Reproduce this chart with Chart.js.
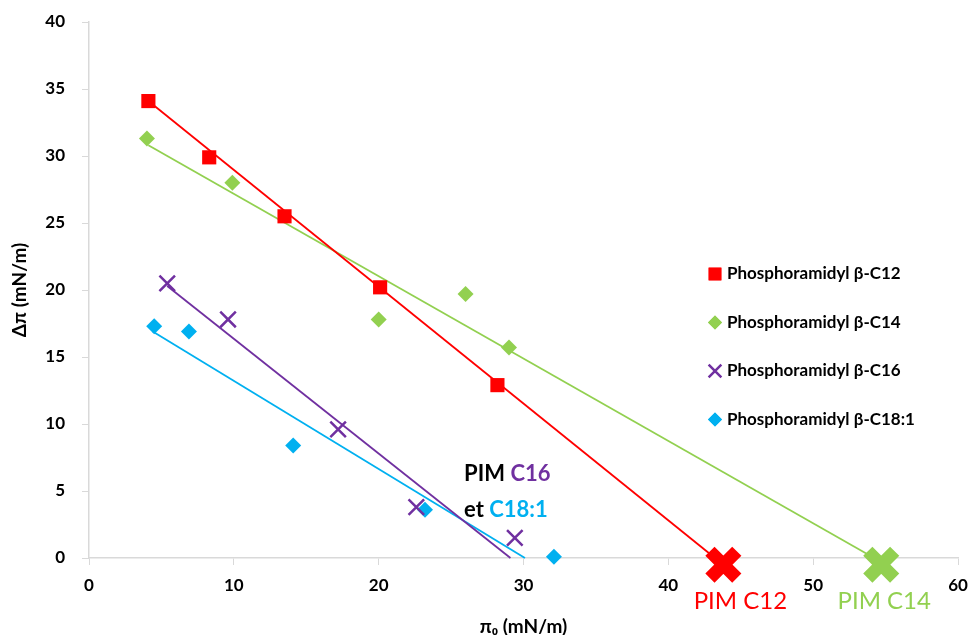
<!DOCTYPE html>
<html><head><meta charset="utf-8">
<script src="https://cdn.jsdelivr.net/npm/chart.js@4/dist/chart.umd.min.js"></script>
<style>html,body{margin:0;padding:0;background:#fff;overflow:hidden}#wrap{width:973px;height:635px;position:relative}</style>
</head><body><div id="wrap"><canvas id="c"></canvas></div>
<script>
// ---- data ----
const seriesNames = ['Phosphoramidyl β-C12','Phosphoramidyl β-C14','Phosphoramidyl β-C16','Phosphoramidyl β-C18:1'];
const c12X = [4.1, 8.3, 13.5, 20.1, 28.2];
const c12Y = [34.1, 29.9, 25.5, 20.2, 12.9];
const c14X = [4.0, 9.9, 20.0, 26.0, 29.0];
const c14Y = [31.3, 28.0, 17.8, 19.7, 15.7];
const c16X = [5.4, 9.6, 17.2, 22.6, 29.4];
const c16Y = [20.5, 17.8, 9.6, 3.8, 1.5];
const c18X = [4.5, 6.9, 14.1, 23.2, 32.1];
const c18Y = [17.3, 16.9, 8.4, 3.6, 0.1];
const pimX = [43.8, 54.7];
const pimY = [-0.5, -0.5];
const pimLabels = ['PIM C12', 'PIM C14'];
const trend12X = [4.1, 43.8], trend12Y = [34.1, -0.5];
const trend14X = [4.1, 54.7], trend14Y = [30.8, -0.3];
const trend16X = [5.4, 29.1], trend16Y = [20.3, 0];
const trend18X = [4.4, 30.1], trend18Y = [16.9, 0];
const xTitle = 'π₀ (mN/m)';
const yTitle = 'Δπ (mN/m)';

// ---- styles ----
const RED = '#FF0000', GREEN = '#92D050', PURPLE = '#7030A0', BLUE = '#00B0F0';
const FONT = 'Lato, "Open Sans", sans-serif';
const pts = (xs, ys) => xs.map((x, i) => ({x, y: ys[i]}));

function pointSet(label, xs, ys, color, style, radius, bw) {
  return {type: 'scatter', label, data: pts(xs, ys), backgroundColor: color, borderColor: color,
    pointStyle: style, pointRadius: radius, pointHoverRadius: radius, pointBorderWidth: bw, order: 0, clip: false};
}
function trendSet(xs, ys, color) {
  return {type: 'line', data: pts(xs, ys), borderColor: color, borderWidth: 1.8, pointRadius: 0,
    fill: false, showLine: true, order: 1, clip: false};
}

const datasets = [
  pointSet(seriesNames[0], c12X, c12Y, RED, 'rect', 10, 0),
  pointSet(seriesNames[1], c14X, c14Y, GREEN, 'rectRot', 8, 0),
  pointSet(seriesNames[2], c16X, c16Y, PURPLE, 'crossRot', 11, 2.5),
  pointSet(seriesNames[3], c18X, c18Y, BLUE, 'rectRot', 8, 0),
  {type: 'scatter', data: pts(pimX, pimY), borderColor: [RED, GREEN], backgroundColor: [RED, GREEN],
    pointStyle: 'crossRot', pointRadius: 19, pointBorderWidth: 13, order: 0, clip: false},
  trendSet(trend12X, trend12Y, RED),
  trendSet(trend14X, trend14Y, GREEN),
  trendSet(trend16X, trend16Y, PURPLE),
  trendSet(trend18X, trend18Y, BLUE)
];

const legendStyles = [
  {style: 'rect', color: RED, r: 9, bw: 0},
  {style: 'rectRot', color: GREEN, r: 7, bw: 0},
  {style: 'crossRot', color: PURPLE, r: 9, bw: 2.5},
  {style: 'rectRot', color: BLUE, r: 7, bw: 0}
];
const pimLabelOffsets = [17, 3];

const overlay = {
  id: 'overlay',
  afterDraw(chart) {
    const ctx = chart.ctx;
    const xs = chart.scales.x, ys = chart.scales.y;
    ctx.save();
    // legend
    const lx = 715, ly0 = 274, dy = 48.5;
    seriesNames.forEach((name, i) => {
      const s = legendStyles[i];
      const y = ly0 + i * dy;
      ctx.fillStyle = s.color; ctx.strokeStyle = s.color; ctx.lineWidth = s.bw;
      Chart.helpers.drawPoint(ctx, {pointStyle: s.style, radius: s.r, rotation: 0, borderWidth: s.bw}, lx, y);
      if (s.bw === 0) ctx.fill();
      ctx.fillStyle = '#000';
      ctx.font = 'bold 17px ' + FONT;
      ctx.textAlign = 'left'; ctx.textBaseline = 'middle';
      ctx.fillText(name, lx + 12, y);
    });
    // PIM labels under the big crosses
    ctx.font = '24px ' + FONT;
    ctx.textAlign = 'center'; ctx.textBaseline = 'middle';
    [RED, GREEN].forEach((c, i) => {
      ctx.fillStyle = c;
      ctx.fillText(pimLabels[i], xs.getPixelForValue(pimX[i]) + pimLabelOffsets[i], ys.getPixelForValue(0) + 43);
    });
    // PIM C16 et C18:1 annotation
    ctx.font = 'bold 22px ' + FONT;
    ctx.textAlign = 'left';
    const ax = xs.getPixelForValue(25.9);
    const ay1 = ys.getPixelForValue(6.3), ay2 = ys.getPixelForValue(3.6);
    const parts1 = [['PIM ', '#000'], ['C16', PURPLE]];
    const parts2 = [['et ', '#000'], ['C18:1', BLUE]];
    [[parts1, ay1], [parts2, ay2]].forEach(([parts, y]) => {
      let x = ax;
      parts.forEach(([t, c]) => { ctx.fillStyle = c; ctx.fillText(t, x, y); x += ctx.measureText(t).width; });
    });
    ctx.restore();
  }
};

function noPad(s) { s.paddingTop = 0; s.paddingBottom = 0; s.paddingLeft = 0; s.paddingRight = 0; }

new Chart(document.getElementById('c'), {
  type: 'scatter',
  data: {datasets},
  plugins: [overlay],
  options: {
    responsive: true, maintainAspectRatio: false, animation: false,
    layout: {autoPadding: false, padding: {left: 0, right: 15, top: 22, bottom: 0}},
    plugins: {legend: {display: false}, tooltip: {enabled: false}},
    scales: {
      x: {
        type: 'linear', min: 0, max: 60,
        ticks: {stepSize: 10, color: '#000', font: {family: FONT, size: 17, weight: 'bold'}, padding: 10, maxRotation: 0},
        grid: {drawOnChartArea: false, color: '#d9d9d9', tickLength: 7},
        border: {color: '#d9d9d9', width: 1.5},
        title: {display: true, text: xTitle, color: '#000', font: {family: FONT, size: 19, weight: 'bold'}, padding: {top: 0, bottom: -3}},
        afterFit(s) { s.height = 77; noPad(s); }
      },
      y: {
        type: 'linear', min: 0, max: 40,
        ticks: {stepSize: 5, color: '#000', font: {family: FONT, size: 17, weight: 'bold'}, padding: 17},
        grid: {drawOnChartArea: false, color: '#d9d9d9', tickLength: 7},
        border: {color: '#d9d9d9', width: 1.5},
        title: {display: true, text: yTitle, color: '#000', font: {family: FONT, size: 19, weight: 'bold'}, padding: {top: 8, bottom: 10}},
        afterFit(s) { s.width = 89; noPad(s); }
      }
    }
  }
});
</script></body></html>
